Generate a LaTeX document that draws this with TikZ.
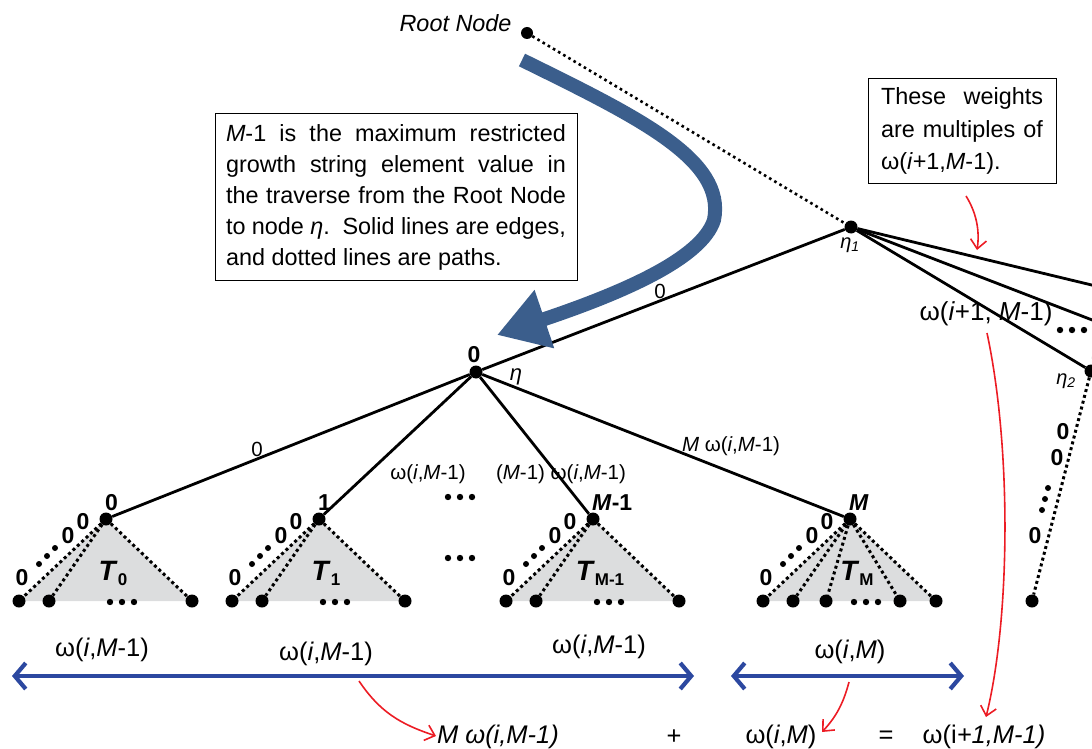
\documentclass[tikz,border=0pt]{standalone}
\usepackage{fontspec}
\setmainfont{Liberation Sans}
\usetikzlibrary{arrows.meta}

\definecolor{arrowblue}{RGB}{59,94,140}
\definecolor{spanblue}{RGB}{44,72,160}
\definecolor{treegray}{RGB}{220,221,222}
\definecolor{notered}{RGB}{236,28,36}

\newcommand{\fsz}[2]{\fontsize{#1}{#2}\selectfont}
\newcommand{\wt}{ω(\textit{i},\textit{M}-1)}
\newcommand{\tname}[1]{\textit{T}\raisebox{-5pt}{\fsz{17}{18}#1}}
\hbadness=10000

\tikzset{
  vtx/.style={circle, fill=black, inner sep=0pt, minimum size=13pt},
  branch/.style={line width=2.8pt},
  trail/.style={line width=3pt, dash pattern=on 3pt off 3pt},
  zero/.style={font=\fsz{23}{26}\bfseries, inner sep=0pt},
  wlab/.style={font=\fsz{20.5}{24}, inner sep=0pt},
  big/.style={font=\fsz{25.5}{30}, inner sep=1pt},
  note/.style={draw, line width=1pt, align=justify, font=\fsz{23.4}{31}},
  hint/.style={notered, line width=1.6pt, -{Straight Barb[length=9pt,width=16pt]}},
  span/.style={spanblue, line width=4.2pt, {Straight Barb[length=11pt,width=26pt]}-{Straight Barb[length=11pt,width=26pt]}},
}

\begin{document}
\begin{tikzpicture}[x=1pt, y=-1pt]
\useasboundingbox (0,0) rectangle (1092,749);
\clip (0,0) rectangle (1092,749);

% sub-trees T_0, T_1, T_{M-1}, T_M
\foreach \nm/\x/\tp/\tsub in {t0/106/0/0, t1/319/1/1, tmm/593/{\textit{M}-1}/{M-1}, tm/850/{\textit{M}}/M} {
  \fill[treegray] (\x,519) -- (\x-87,601) -- (\x+86,601) -- cycle;
  \node[vtx] (\nm) at (\x,519) {};
  \node[vtx] (\nm-a) at (\x-87,601) {};
  \node[vtx] (\nm-b) at (\x-57,601) {};
  \node[vtx] (\nm-z) at (\x+86,601) {};
  \draw[trail] (\nm) -- (\nm-a);
  \draw[trail] (\nm) -- (\nm-b);
  \draw[trail] (\nm) -- (\nm-z);
  \node[zero, anchor=south west] at (\x-1,511) {\tp};
  \node[zero] at (\x-23,522) {0};
  \node[zero] at (\x-38,536) {0};
  \foreach \dx/\dy in {51/548, 59/556, 67/564} \fill (\x-\dx,\dy) circle (3pt);
  \node[zero] at (\x-84,578) {0};
  \foreach \dx in {4,16,28} \fill (\x+\dx,602) circle (3.2pt);
  \node[font=\fsz{28}{30}\bfseries] at (\x+7,573) {\tname{\tsub}};
}
% two more leaves of T_M
\node[vtx] (tm-c) at (826,601) {};
\node[vtx] (tm-d) at (900,601) {};
\draw[trail] (tm) -- (tm-c);
\draw[trail] (tm) -- (tm-d);

% dots between the sub-trees
\foreach \y in {497,558}
  \foreach \x in {448,460,472} \fill (\x,\y) circle (3.2pt);

% upper nodes
\node[vtx, minimum size=12pt] (root) at (527,33) {};
\node[font=\fsz{23.4}{28}\itshape, anchor=east] (rootlab) at (515,23) {Root Node};
\node[vtx] (eta1) at (851,227) {};
\node[vtx] (eta) at (476,372) {};
\node[vtx] (eta2) at (1091,371) {};
\node[vtx] (leafz) at (1032,601) {};
\coordinate (off1) at (1100,287);
\coordinate (off2) at (1100,323);

\draw[line width=2.6pt, dash pattern=on 2.6pt off 3.4pt] (root) -- (eta1);
\draw[branch] (eta1) -- (eta);
\draw[branch] (eta1) -- (off1);
\draw[branch] (eta1) -- (off2);
\draw[branch] (eta1) -- (eta2);
\draw[trail] (eta2) -- (leafz);

\draw[branch] (eta) -- (t0);
\draw[branch] (eta) -- (t1);
\draw[branch] (eta) -- (tmm);
\draw[branch] (eta) -- (tm);

% big blue arrow
\draw[arrowblue, line width=14pt, -{Triangle[length=50pt, width=58pt]}]
  (522,60) .. controls (640,118) and (726,160) .. (714,220)
  .. controls (702,258) and (625,292) .. (497,335);

% edge weights
\node[wlab] at (660,291) {0};
\node[wlab] at (257,449) {0};
\node[wlab] at (428,474) {\wt};
\node[wlab] at (561,474) {(\textit{M}-1) \wt};
\node[wlab] at (731,446) {\textit{M} \wt};
\node[font=\fsz{26}{30}] at (986,314) {ω(\textit{i}+1, \textit{M}-1)};

% node names
\node[zero] at (474,355) {0};
\node[font=\fsz{22}{24}\itshape] at (516,377) {η};
\node[font=\fsz{20}{22}\itshape] at (850,245) {η\textsubscript{1}};
\node[font=\fsz{20}{22}\itshape] at (1066,381) {η\textsubscript{2}};
\foreach \x in {1060,1072,1084} \fill (\x,330) circle (3.2pt);
\node[zero] at (1097,352) {1};

% path below eta_2
\node[zero] at (1063,432) {0};
\node[zero] at (1057,458) {0};
\foreach \x/\y in {1048/488, 1045/499, 1042/510} \fill (\x,\y) circle (3pt);
\node[zero] at (1035,536) {0};

% notes
\node[note, text width=340pt, inner xsep=11pt, inner ysep=11pt] (why) at (396,197)
  {\textit{M}-1 is the maximum restricted\linebreak
   growth string element value in\linebreak
   the traverse from the Root Node\linebreak
   to node \textit{η}.\ \ Solid lines are edges,\linebreak
   and dotted lines are paths.};
\node[note, text width=162pt, inner xsep=13pt, inner ysep=9pt, font=\fsz{23.4}{32.5}] (mult) at (962,131)
  {These weights\linebreak
   are multiples of\linebreak
   ω(\textit{i}+1,\textit{M}-1).};

% weight spans
\coordinate (spanA) at (12,676);
\coordinate (spanB) at (694,676);
\coordinate (spanC) at (731,676);
\coordinate (spanD) at (964,676);
\draw[span] (spanA) -- (spanB);
\draw[span] (spanC) -- (spanD);
\node[big] (lab1) at (102,650) {\wt};
\node[big] (lab2) at (326,654) {\wt};
\node[big] (lab3) at (599,647) {\wt};
\node[big] (lab4) at (850,652) {ω(\textit{i},\textit{M})};

% the sum
\node[big, font=\fsz{25.5}{30}\itshape] (sum1) at (498,737) {M ω(i,M-1)};
\node[big] (plus) at (674,737) {+};
\node[big] (sum2) at (781,737) {ω(\textit{i},\textit{M})};
\node[big] (eq) at (886,737) {=};
\node[big] (sum3) at (984,737) {ω(i\textit{+1,M-1)}};

% red hints
\coordinate (h1s) at (359,681);
\coordinate (h1e) at (436,736);
\coordinate (h2s) at (849,682);
\coordinate (h2e) at (822,732);
\coordinate (h3s) at (987,333);
\coordinate (h3e) at (986,717);
\coordinate (h4s) at (966,196);
\coordinate (h4e) at (977,250);
\draw[hint] (h1s) .. controls (380,712) and (400,724) .. (h1e);
\draw[hint] (h2s) .. controls (843,705) and (835,718) .. (h2e);
\draw[hint] (h3s) .. controls (1012,450) and (1010,620) .. (h3e);
\draw[hint] (h4s) .. controls (976,212) and (980,230) .. (h4e);

\end{tikzpicture}
\end{document}
